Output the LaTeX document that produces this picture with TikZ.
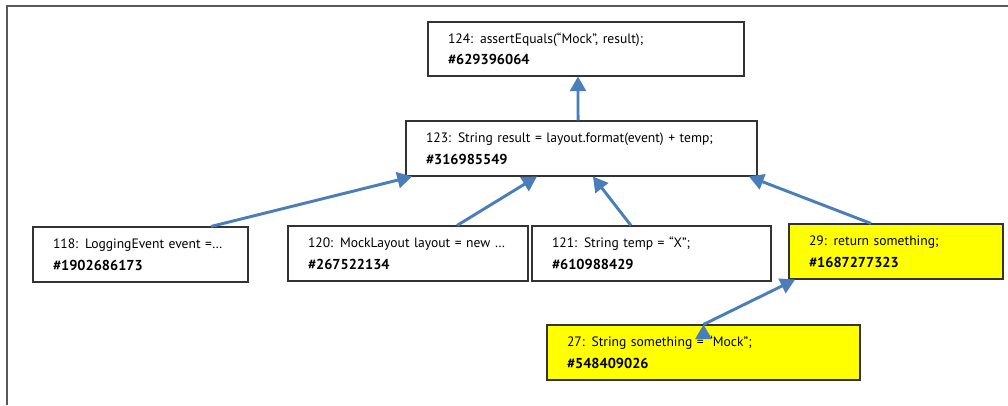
\documentclass[tikz,border=0pt]{standalone}
\usepackage{fontspec}
\setmainfont{PT Sans}
\usepackage{xcolor}
\usepackage{tikz}
\usetikzlibrary{arrows.meta}
\definecolor{link-blue}{RGB}{74,126,187}
\definecolor{frame-grey}{RGB}{89,89,89}
\definecolor{hit-yellow}{RGB}{255,255,0}
\newcommand{\stmtid}[1]{{\fontsize{10.8}{16.2}\selectfont\bfseries\##1}}
\tikzstyle{e}=[line width=2.2pt,draw=link-blue,arrows={-Triangle[length=11pt,width=12pt,link-blue]}]
\tikzstyle{n}=[rectangle,draw=black!80,line width=0.8pt,fill=white,align=left,inner xsep=15pt,inner ysep=0pt,minimum height=41.25pt,font=\fontsize{10.2}{16.2}\selectfont]
\tikzstyle{hit}=[fill=hit-yellow]

\begin{document}
\begin{tikzpicture}[x=0.75pt,y=-0.75pt]
    \useasboundingbox (0,0) rectangle (1008,405);
    \draw[frame-grey,line width=1.5pt] (7,405) -- (7,5.7) -- (1008,5.7);

    \node[n,text width=207pt,minimum height=40.5pt] (n124) at (586, 49)    {\mbox{124: assertEquals(“Mock”, result);}\\\stmtid{629396064}};
    \node[n,text width=233.25pt] (n123) at (581.5, 148.5) {\mbox{123: String result = layout.format(event) + temp;}\\\stmtid{316985549}};

    \node[n,text width=131.25pt] (n118) at (140.5, 254.5) {\mbox{118: LoggingEvent event =…}\\\stmtid{1902686173}};
    \node[n,text width=150pt]    (n120) at (408, 253.5)   {\mbox{120: MockLayout layout = new …}\\\stmtid{267522134}};
    \node[n,text width=149.25pt] (n121) at (651.5, 253.5) {\mbox{121: String temp = “X”;}\\\stmtid{610988429}};
    \node[n,hit,text width=130.5pt] (n29) at (896, 251.5) {\mbox{29: return something;}\\\stmtid{1687277323}};

    \node[n,hit,text width=204.75pt] (n27) at (703.5, 352.5) {\mbox{27: String something = “Mock”;}\\\stmtid{548409026}};

    \path[e]
      ([xshift=-2.6pt]n123.north)  edge ([xshift=-6pt]n124.south)
      ([xshift=52.9pt]n118.north)  edge ([xshift=-127.1pt]n123.south)
      ([xshift=36.75pt]n120.north) edge ([xshift=-33.4pt]n123.south)
      ([xshift=-15.4pt]n121.north) edge ([xshift=8.6pt]n123.south)
      ([xshift=-18.75pt]n29.north) edge ([xshift=125.6pt]n123.south)
      (n27.north)                  edge ([xshift=5pt]n29.south west);

  \end{tikzpicture}
\end{document}
